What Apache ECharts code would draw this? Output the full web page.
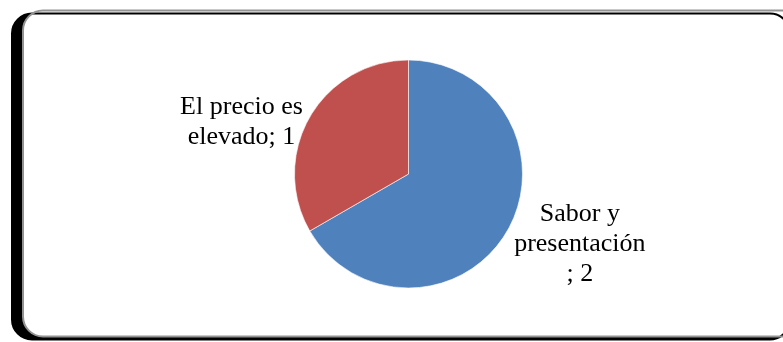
<!DOCTYPE html>
<html>
<head>
<meta charset="utf-8">
<style>
  html, body { margin: 0; padding: 0; background: #ffffff; }
  #chart { width: 783px; height: 342px; }
</style>
<script src="https://cdn.jsdelivr.net/npm/echarts@6/dist/echarts.min.js"></script>
</head>
<body>
<div id="chart"></div>
<script>
// Reasons given, with the number of answers for each
const categories = ['Sabor y presentación', 'El precio es elevado'];
const values = [2, 1];
// Label text as it wraps inside the chart area (value is appended)
const labelLines = [
  ['Sabor y', 'presentación', '; '],
  ['El precio es', 'elevado; ']
];
const colors = ['#4F81BD', '#C0504D'];

const chart = echarts.init(document.getElementById('chart'), null, { renderer: 'canvas' });

const data = categories.map((name, i) => ({
  name: name,
  value: values[i],
  itemStyle: { color: colors[i] }
}));

chart.setOption({
  animation: false,
  backgroundColor: '#ffffff',
  graphic: [{
    type: 'rect',
    z: 0,
    silent: true,
    shape: { x: 23, y: 10.5, width: 778, height: 326, r: 20 },
    style: {
      fill: '#ffffff',
      stroke: '#939393',
      lineWidth: 2,
      shadowColor: '#000000',
      shadowBlur: 0,
      shadowOffsetX: -11,
      shadowOffsetY: 3
    }
  }],
  series: [{
    type: 'pie',
    z: 2,
    center: [408.5, 174],
    radius: 114,
    startAngle: 90,
    clockwise: true,
    avoidLabelOverlap: false,
    data: data,
    itemStyle: { borderColor: '#ffffff', borderWidth: 0.6 },
    labelLine: { show: false, length: 8, length2: 0 },
    label: {
      show: true,
      position: 'outside',
      distanceToLabelLine: 0,
      padding: [18, 0, 0, 0],
      formatter: function (p) {
        const lines = labelLines[p.dataIndex].slice();
        lines[lines.length - 1] += p.value;
        return lines.map(l => '{t|' + l + '}').join('\n');
      },
      rich: {
        t: {
          align: 'center',
          fontFamily: '"Liberation Serif", "Times New Roman", serif',
          fontSize: 26,
          lineHeight: 30,
          color: '#000000'
        }
      }
    }
  }]
});
</script>
</body>
</html>
